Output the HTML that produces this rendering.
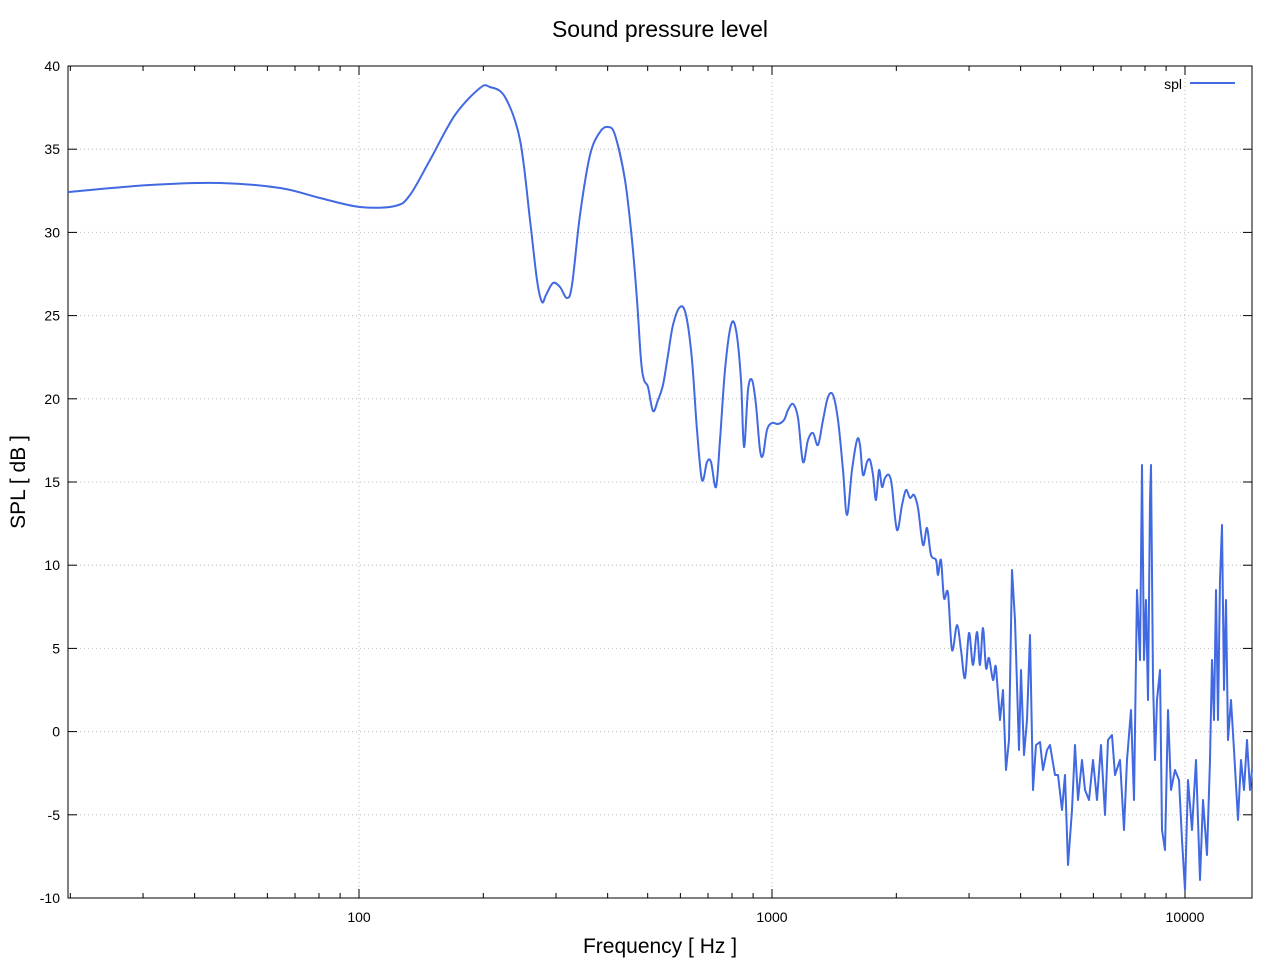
<!DOCTYPE html>
<html><head><meta charset="utf-8"><style>body{margin:0;background:#fff}svg{display:block;font-family:"Liberation Sans","DejaVu Sans",sans-serif}</style></head>
<body>
<svg id="s" width="1280" height="960" xmlns="http://www.w3.org/2000/svg">
<rect width="1280" height="960" fill="#fff"/>
<g id="grid" stroke="#bbb" stroke-width="1" stroke-dasharray="1,3"></g>
<g id="ticks" stroke="#000" stroke-width="1"></g>
<rect x="68" y="66" width="1184" height="832" fill="none" stroke="#000" stroke-width="1"/>
<g id="lab" font-size="14" fill="#000"></g>
<text x="660" y="37" text-anchor="middle" font-size="23">Sound pressure level</text>
<text x="660" y="953" text-anchor="middle" font-size="21">Frequency [ Hz ]</text>
<text transform="translate(25,482) rotate(-90)" text-anchor="middle" font-size="21">SPL [ dB ]</text>
<text x="1182" y="89" text-anchor="end" font-size="14">spl</text>
<line x1="1190" y1="83" x2="1235" y2="83" stroke="#4169e1" stroke-width="2"/>
<path id="curve" fill="none" stroke="#4169e1" stroke-width="2" stroke-linejoin="round"/>
</svg>
<script>
var ns="http://www.w3.org/2000/svg";
function el(p,t,a,txt){var e=document.createElementNS(ns,t);for(var k in a)e.setAttribute(k,a[k]);if(txt!==undefined)e.textContent=txt;document.getElementById(p).appendChild(e);}
for(var i=0;i<=10;i++){var v=40-5*i,y=66+83.2*i;
 if(i>0&&i<10)el("grid","line",{x1:68,y1:y,x2:1252,y2:y});
 el("ticks","line",{x1:68,y1:y,x2:77,y2:y});el("ticks","line",{x1:1243,y1:y,x2:1252,y2:y});
 el("lab","text",{x:60,y:y+5,"text-anchor":"end"},v);}
[100,1000,10000].forEach(function(f){var x=359+413*(Math.log10(f)-2);
 el("grid","line",{x1:x,y1:66,x2:x,y2:898});
 el("ticks","line",{x1:x,y1:898,x2:x,y2:889});el("ticks","line",{x1:x,y1:66,x2:x,y2:75});
 el("lab","text",{x:x,y:922,"text-anchor":"middle"},f);});
[10,100,1000,10000].forEach(function(d){for(var m=2;m<=9;m++){var x=359+413*(Math.log10(d*m)-2);if(x<68||x>1252)continue;
 el("ticks","line",{x1:x,y1:898,x2:x,y2:893});el("ticks","line",{x1:x,y1:66,x2:x,y2:71});}});
var s="68,192 150,185 220,183 280,188 320,198 360,207 395,206 410,195 430,160 455,115 480,88 490,87 505,97 520,140 530,220 537,280 542,302 546,295 553,283 560,287 567,298 572,285 580,215 590,155 600,132 608,127 615,135 625,180 632,240 637,300 641,360 644,380 648,387 653,411 658,400 663,385 668,355 673,325 680,307 686,315 692,360 697,430 702,480 707,462 711,462 716,487 720,440 725,370 731,325 736,330 741,380 744,447 748,390 752,380 756,405 760,450 763,455 767,430 772,423 778,424 784,420 788,410 793,404 798,418 803,462 808,440 813,433 818,445 823,420 828,397 833,395 838,420 843,470 847,515 852,470 857,440 860,445 863,475 867,462 870,460 873,475 876,500 879,470 882,487 885,478 889,475 892,487 897,530 902,505 906,490 910,498 914,495 918,508 923,545 927,528 931,555 936,560 938,575 941,560 944,598 948,593 952,650 957,625 961,650 965,678 969,633 973,665 977,632 980,665 983,628 986,668 989,658 993,680 996,667 1000,720 1003,690 1006,770 1009,740 1012,570 1015,620 1019,750 1021,670 1024,755 1027,720 1030,635 1033,790 1036,745 1040,742 1043,770 1047,750 1050,745 1055,775 1058,775 1062,810 1065,775 1068,865 1072,810 1075,745 1078,800 1082,760 1085,790 1089,800 1093,760 1097,800 1101,745 1105,815 1108,740 1112,735 1115,775 1120,760 1124,830 1127,760 1131,710 1134,800 1137,590 1140,660 1142,465 1144,660 1146,600 1148,700 1150,500 1151,465 1153,680 1155,760 1157,700 1160,670 1162,830 1165,850 1168,710 1171,790 1175,770 1179,780 1182,840 1185,890 1188,780 1192,830 1196,760 1200,880 1203,800 1207,855 1210,760 1212,660 1214,720 1216,590 1218,720 1220,580 1222,525 1224,690 1226,600 1228,740 1231,700 1234,750 1238,820 1241,760 1244,790 1247,740 1250,790 1252,770";
var P=s.split(" ").map(function(q){return q.split(",").map(Number);});
var d="M"+P[0][0]+","+P[0][1];
for(var i=0;i<P.length-1;i++){var p0=P[Math.max(0,i-1)],p1=P[i],p2=P[i+1],p3=P[Math.min(P.length-1,i+2)];
 if(p2[0]<1000){var t=1/6;
  d+=" C"+(p1[0]+(p2[0]-p0[0])*t).toFixed(1)+","+(p1[1]+(p2[1]-p0[1])*t).toFixed(1)+" "+(p2[0]-(p3[0]-p1[0])*t).toFixed(1)+","+(p2[1]-(p3[1]-p1[1])*t).toFixed(1)+" "+p2[0]+","+p2[1];
 } else d+=" L"+p2[0]+","+p2[1];}
document.getElementById("curve").setAttribute("d",d);
</script>
</body></html>
